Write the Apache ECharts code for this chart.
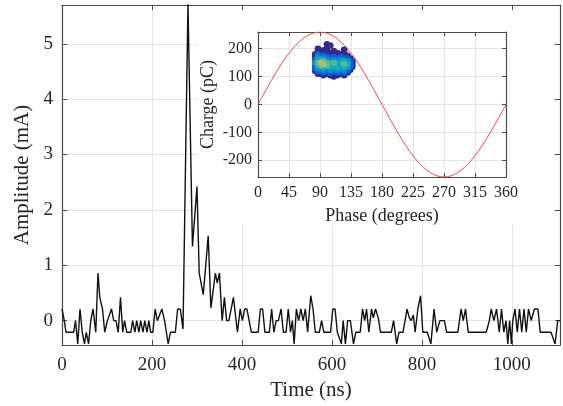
<!DOCTYPE html>
<html><head><meta charset="utf-8">
<script src="https://cdn.jsdelivr.net/npm/echarts@6/dist/echarts.min.js"></script>
<style>html,body{margin:0;padding:0;background:#fff}#c{width:563px;height:406px}</style>
</head><body><div id="c"></div>
<script>
// ---- main trace (time in ns, amplitude in mA) ----
const timeNs = [0,5,9,26,30,35,40,45,50,54,59,64,69,75,80,84,90,95,101,105,110,115,120,125,130,135,139,144,153,157,162,166,171,175,180,184,189,193,197,202,207,212,216,222,228,232,236,241,252,257,263,269,280,290,300,305,314,325,331,335,341,345,350,356,361,366,371,381,390,396,401,406,411,416,421,436,441,446,451,461,466,471,476,481,487,492,498,503,508,512,516,521,526,531,536,541,546,553,558,563,572,577,582,597,602,607,612,621,625,630,635,641,648,653,663,668,673,677,682,688,692,697,703,708,732,737,744,749,758,767,772,776,781,785,791,797,802,812,820,827,833,840,850,855,880,887,892,897,903,943,950,954,960,966,972,977,982,987,991,995,999,1002,1007,1012,1017,1022,1027,1032,1037,1043,1050,1058,1063,1087,1096,1102,1107];
const amplitudeMA = [0.21,0,-0.21,-0.21,0,-0.42,0.21,-0.21,-0.42,-0.21,-0.42,0,0.21,-0.21,0.86,0.42,0.21,-0.21,0,0,0.21,0,0,-0.21,0.42,-0.21,0,-0.21,-0.21,0,-0.21,0,-0.21,0,-0.21,0,-0.21,0,-0.21,-0.21,0.21,0,0,0.21,0,-0.21,-0.42,-0.21,-0.21,0.21,0.21,-0.15,5.72,1.34,2.42,0.86,0.47,1.53,0.23,0.23,0.86,0.68,0.86,0,0.42,0,0,0.42,-0.21,0.21,0,0.21,0.21,0,-0.21,-0.21,0.21,0.21,-0.21,-0.21,0.21,-0.21,0,0,0.21,-0.21,-0.21,0.21,-0.21,0,-0.42,0.21,0,0.21,0,0.21,-0.21,0.45,0.21,-0.21,-0.21,0,-0.21,-0.21,0.21,0.21,-0.21,-0.42,0,-0.42,0,0,-0.42,-0.21,-0.21,0.21,0,0.21,-0.21,0.21,0.05,0.21,0.05,-0.21,-0.21,0,-0.42,-0.21,-0.21,0.21,0.05,0,0.1,-0.21,0.21,0.45,-0.21,-0.21,-0.42,0.21,-0.21,0,0,-0.21,-0.21,0.21,0,0.21,-0.21,-0.21,0,0.21,0,0.21,-0.21,0.21,-0.21,0,-0.42,0,-0.42,0,0.21,-0.21,0.21,-0.21,0.21,-0.21,0.21,0,0.21,0.21,-0.21,-0.21,-0.42,0,0];
const xTicks = [0,200,400,600,800,1000];
const yTicks = [0,1,2,3,4,5];

// ---- inset: reference sine (phase in degrees, charge in pC) ----
const sinePhase  = [0,10,20,30,40,50,60,70,80,90,100,110,120,130,140,150,160,170,180,190,200,210,220,230,240,250,260,270,280,290,300,310,320,330,340,350,360];
const sineCharge = [0,45,89,130,167,199,225,244,256,260,256,244,225,199,167,130,89,45,0,-45,-89,-130,-167,-199,-225,-244,-256,-260,-256,-244,-225,-199,-167,-130,-89,-45,0];
const phaseTicks = [0,45,90,135,180,225,270,315,360];
const chargeTicks = [-200,-100,0,100,200];

// ---- inset: measured pulses (phase, charge, relative density) ----
const scatterPhase = [
 83,83,83,83,83,83,83,
 87,87,87,87,87,87,87,87,87,87,
 91,91,91,91,91,91,91,91,91,
 95,95,95,95,95,95,95,95,95,95,
 100,100,100,100,100,100,100,100,100,100,100,
 105,105,105,105,105,105,105,105,105,105,
 110,110,110,110,110,110,110,110,110,110,
 115,115,115,115,115,115,115,115,115,
 120,120,120,120,120,120,120,120,
 125,125,125,125,125,125,125,125,125,125,
 130,130,130,130,130,130,130,
 134,134,134,134,134,
 137,137,137];
const scatterCharge = [
 120,130,140,150,160,170,180,
 110,120,130,140,150,160,170,180,190,200,
 110,120,130,140,150,160,170,180,190,
 105,115,125,135,145,155,165,175,185,195,
 110,120,130,140,150,160,170,180,190,200,216,
 105,115,125,135,145,155,165,175,185,212,
 100,110,120,130,140,150,160,170,180,192,
 105,115,125,135,145,155,165,175,185,
 110,120,130,140,150,160,170,180,
 105,115,125,135,145,155,165,175,185,196,
 115,125,135,145,155,165,175,
 125,135,145,155,165,
 135,145,155];
const scatterDensity = [
 1,2,2,3,2,1,1,
 1,2,3,4,5,4,3,2,1,1,
 1,2,3,5,6,4,2,1,1,
 1,2,3,4,6,5,3,2,1,1,
 1,2,3,5,5,3,2,1,1,1,1,
 1,2,3,4,4,3,2,1,1,1,
 1,1,2,3,4,5,3,2,1,1,
 1,2,3,4,4,3,2,1,1,
 1,2,3,3,4,3,2,1,
 1,2,3,4,5,4,2,1,1,1,
 1,2,3,4,3,2,1,
 1,2,2,2,1,
 1,1,1];

const FONT = '"Liberation Serif","Times New Roman",serif';
const TXT = '#262626';
const AX = '#4a4a4a';
const GRID = '#e4e4e4';

const mainData = timeNs.map((t, i) => [t, amplitudeMA[i]]);
const sineData = sinePhase.map((p, i) => [p, sineCharge[i]]);
const scatData = scatterPhase.map((p, i) => [p, scatterCharge[i], scatterDensity[i]])
  .sort((a, b) => a[2] - b[2]);
const plain = v => String(v);

function boxAxis(extra) {
  return Object.assign({
    type: 'value',
    axisLine: {show: true, onZero: false, lineStyle: {color: AX, width: 1.2}},
    axisTick: {show: true, inside: true, length: 5, lineStyle: {color: AX}},
    axisLabel: {show: false},
    splitLine: {show: false}
  }, extra);
}

const chart = echarts.init(document.getElementById('c'), null, {renderer: 'canvas'});
chart.setOption({
  animation: false,
  backgroundColor: '#fff',
  textStyle: {fontFamily: FONT},
  grid: [
    {left: 62, right: 3, top: 5, bottom: 61},
    {left: 258, top: 32, width: 248, height: 145}
  ],
  graphic: [{
    type: 'rect', z: 5, silent: true,
    shape: {x: 198, y: 6, width: 356, height: 219},
    style: {fill: '#ffffff'}
  }],
  xAxis: [
    boxAxis({gridIndex: 0, position: 'bottom', min: 0, max: 1107, z: 1,
      axisTick: {show: true, inside: true, length: 5, lineStyle: {color: AX}, customValues: xTicks},
      axisLabel: {show: true, customValues: xTicks, formatter: plain, fontSize: 19, color: TXT, fontFamily: FONT, margin: 11},
      splitLine: {show: true, lineStyle: {color: GRID, width: 1}},
      name: 'Time (ns)', nameLocation: 'middle', nameGap: 35,
      nameTextStyle: {fontSize: 21, color: TXT, fontFamily: FONT}}),
    boxAxis({gridIndex: 0, position: 'top', min: 0, max: 1107, z: 8,
      axisTick: {show: true, inside: true, length: 5, lineStyle: {color: AX}, customValues: xTicks}}),
    boxAxis({gridIndex: 1, position: 'bottom', min: 0, max: 360, z: 10,
      axisTick: {show: true, inside: true, length: 4, lineStyle: {color: AX}, customValues: phaseTicks},
      axisLabel: {show: true, customValues: phaseTicks, formatter: plain, fontSize: 16, color: TXT, fontFamily: FONT, margin: 8},
      splitLine: {show: true, lineStyle: {color: GRID, width: 1}},
      name: 'Phase (degrees)', nameLocation: 'middle', nameGap: 30,
      nameTextStyle: {fontSize: 18, color: TXT, fontFamily: FONT}}),
    boxAxis({gridIndex: 1, position: 'top', min: 0, max: 360, z: 10,
      axisTick: {show: true, inside: true, length: 4, lineStyle: {color: AX}, customValues: phaseTicks}})
  ],
  yAxis: [
    boxAxis({gridIndex: 0, position: 'left', min: -0.44, max: 5.7, z: 1,
      axisTick: {show: true, inside: true, length: 5, lineStyle: {color: AX}, customValues: yTicks},
      axisLabel: {show: true, customValues: yTicks, formatter: plain, fontSize: 19, color: TXT, fontFamily: FONT, margin: 9},
      splitLine: {show: true, lineStyle: {color: GRID, width: 1}},
      name: 'Amplitude (mA)', nameLocation: 'middle', nameGap: 27,
      nameTextStyle: {fontSize: 21, color: TXT, fontFamily: FONT}}),
    boxAxis({gridIndex: 0, position: 'right', min: -0.44, max: 5.7, z: 8,
      axisTick: {show: true, inside: true, length: 5, lineStyle: {color: AX}, customValues: yTicks}}),
    boxAxis({gridIndex: 1, position: 'left', min: -260, max: 260, z: 10,
      axisTick: {show: true, inside: true, length: 4, lineStyle: {color: AX}, customValues: chargeTicks},
      axisLabel: {show: true, customValues: chargeTicks, formatter: plain, fontSize: 16, color: TXT, fontFamily: FONT, margin: 6},
      splitLine: {show: true, lineStyle: {color: GRID, width: 1}},
      name: 'Charge (pC)', nameLocation: 'middle', nameGap: 41,
      nameTextStyle: {fontSize: 18, color: TXT, fontFamily: FONT}}),
    boxAxis({gridIndex: 1, position: 'right', min: -260, max: 260, z: 10,
      axisTick: {show: true, inside: true, length: 4, lineStyle: {color: AX}, customValues: chargeTicks}})
  ],
  visualMap: [{
    show: false, type: 'continuous', seriesIndex: 2, dimension: 2, min: 1, max: 8.5,
    inRange: {color: ['#352a87','#0363e1','#1485d4','#06a7c6','#38b99e','#92bf73','#d9ba56','#fcce2e','#f9fb0e']}
  }],
  series: [
    {type: 'line', xAxisIndex: 0, yAxisIndex: 0, data: mainData, symbol: 'none', z: 8, clip: true,
     lineStyle: {color: '#111', width: 1.4}},
    {type: 'line', xAxisIndex: 2, yAxisIndex: 2, data: sineData, symbol: 'none', smooth: 0.3, z: 11, clip: true,
     lineStyle: {color: '#ff4040', width: 1}},
    {type: 'scatter', xAxisIndex: 2, yAxisIndex: 2, data: scatData, symbolSize: 6.5, z: 12,
     itemStyle: {opacity: 1}}
  ]
});
</script></body></html>
